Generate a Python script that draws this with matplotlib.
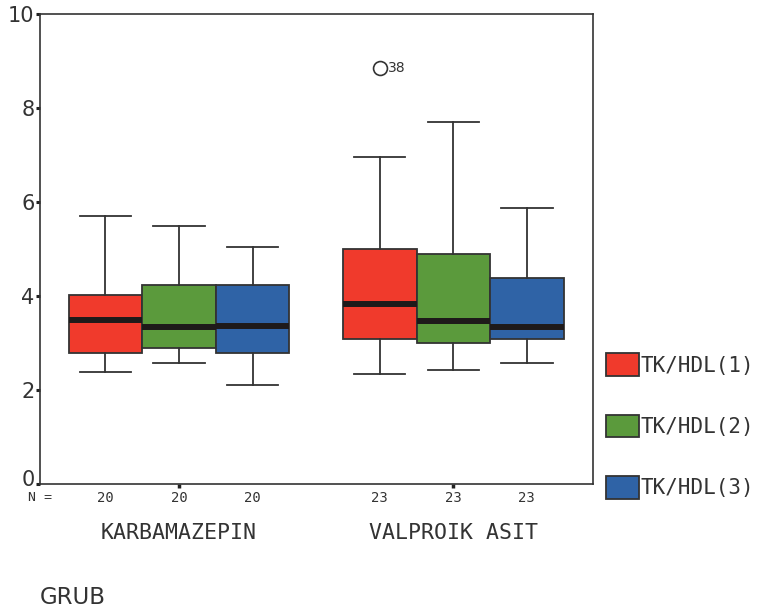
import numpy as np
import matplotlib.pyplot as plt
import matplotlib.transforms as mtransforms

# TK/HDL ratios per group: whisker low, Q1, median, Q3, whisker high
groups = ['KARBAMAZEPIN', 'VALPROIK ASIT']
series = ['TK/HDL(1)', 'TK/HDL(2)', 'TK/HDL(3)']
n_counts = [[20, 20, 20], [23, 23, 23]]

karb_low = [2.38, 2.57, 2.11]
karb_q1 = [2.79, 2.89, 2.79]
karb_med = [3.48, 3.34, 3.36]
karb_q3 = [4.02, 4.23, 4.23]
karb_high = [5.71, 5.50, 5.05]

valp_low = [2.34, 2.43, 2.57]
valp_q1 = [3.08, 2.99, 3.08]
valp_med = [3.83, 3.47, 3.33]
valp_q3 = [4.99, 4.89, 4.38]
valp_high = [6.96, 7.71, 5.88]

# outlier: case 38, TK/HDL(1) in valproik asit group
outlier_value = 8.85
outlier_case = '38'

colors = ['#f03a2c', '#5b9a3c', '#2f63a6']
edge = '#333333'
mono = 'DejaVu Sans Mono'

fig = plt.figure(figsize=(7.61, 6.13), dpi=100)
ax = fig.add_axes([40 / 761, 1 - 484 / 613, 553 / 761, 470 / 613])

group_centers = [0.0, 3.73]
offsets = [-1, 0, 1]

stats = []
positions = []
for gi, (lo, q1, med, q3, hi) in enumerate([
        (karb_low, karb_q1, karb_med, karb_q3, karb_high),
        (valp_low, valp_q1, valp_med, valp_q3, valp_high)]):
    for si in range(3):
        fliers = [outlier_value] if (gi == 1 and si == 0) else []
        stats.append(dict(whislo=lo[si], q1=q1[si], med=med[si], q3=q3[si],
                          whishi=hi[si], fliers=fliers))
        positions.append(group_centers[gi] + offsets[si])

bp = ax.bxp(stats, positions=positions, widths=1.0, patch_artist=True,
            showfliers=True, capwidths=0.7,
            boxprops=dict(edgecolor=edge, linewidth=1.3),
            whiskerprops=dict(color=edge, linewidth=1.3),
            capprops=dict(color=edge, linewidth=1.3),
            medianprops=dict(color='#1e1a1a', linewidth=4.3),
            flierprops=dict(marker='o', markersize=10, markerfacecolor='none',
                            markeredgecolor=edge, markeredgewidth=1.2))
for i, box in enumerate(bp['boxes']):
    box.set_facecolor(colors[i % 3])

ax.annotate(outlier_case, (positions[3], outlier_value), xytext=(6, 0),
            textcoords='offset points', va='center', ha='left',
            fontsize=10, color=edge)

ax.set_xlim(-1.89, 5.63)
ax.set_ylim(0, 10)
ax.set_yticks([0, 2, 4, 6, 8, 10])
ax.set_xticks(group_centers)
ax.set_xticklabels([])
ax.tick_params(axis='y', length=3, width=2.2, color='#222222',
               labelsize=15, labelcolor='#333333', pad=1)
ax.tick_params(axis='x', length=3, width=2.5, color='#222222')
for sp in ax.spines.values():
    sp.set_color(edge)
    sp.set_linewidth(1.2)

# lift the "0" label a little so it clears the N row
fig.canvas.draw()
zero_lbl = ax.get_yticklabels()[0]
zero_lbl.set_transform(zero_lbl.get_transform() +
                       mtransforms.ScaledTranslation(0, 6 / 100, fig.dpi_scale_trans))

# N counts and group names under the axis
trans = mtransforms.blended_transform_factory(ax.transData, ax.transAxes)
ax.text(-1.89, -0.029, 'N =', transform=trans, ha='center', va='center',
        fontsize=9.5, family=mono, color=edge)
for gi, c in enumerate(group_centers):
    for si, off in enumerate(offsets):
        ax.text(c + off, -0.029, str(n_counts[gi][si]), transform=trans,
                ha='center', va='center', fontsize=10, family=mono, color=edge)
    ax.text(c, -0.104, groups[gi], transform=trans, ha='center', va='center',
            fontsize=15.5, family=mono, color=edge)

fig.text(40 / 761, 1 - 598 / 613, 'GRUB', ha='left', va='center',
         fontsize=16.5, color=edge)

handles = [plt.Rectangle((0, 0), 1, 1, facecolor=c, edgecolor=edge, linewidth=1.3)
           for c in colors]
leg = fig.legend(handles, series, loc='center left',
                 bbox_to_anchor=(606 / 761, 1 - 426 / 613),
                 frameon=False, borderpad=0, borderaxespad=0,
                 handlelength=1.6, handleheight=1.3, handletextpad=0.05,
                 labelspacing=1.85, prop=dict(family=mono, size=15))
for t in leg.get_texts():
    t.set_color(edge)

fig.savefig('out.png', dpi=100, facecolor='white')
